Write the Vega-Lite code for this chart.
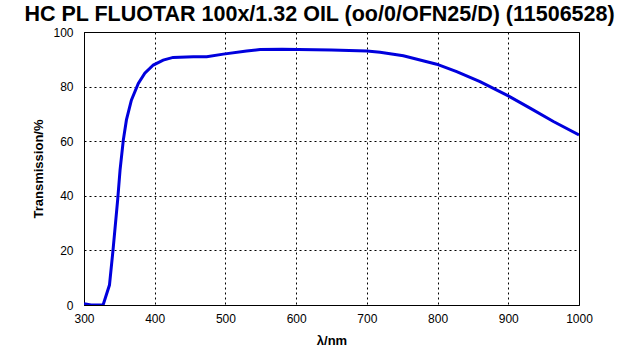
{
  "$schema": "https://vega.github.io/schema/vega-lite/v6.json",
  "width": 495,
  "height": 273,
  "autosize": {"type": "none"},
  "padding": {"left": 84, "top": 32, "right": 61, "bottom": 45},
  "background": "white",
  "title": {"text": "HC PL FLUOTAR 100x/1.32 OIL (oo/0/OFN25/D) (11506528)", "font": "Liberation Sans", "fontSize": 21.5, "fontWeight": "bold", "color": "black", "anchor": "middle", "dx": -12, "offset": 1},
  "config": {
    "view": {"stroke": "black", "strokeWidth": 1}
  },
  "data": {"values": [
    {"wavelength": 300, "T": 0.5},
    {"wavelength": 310, "T": 0},
    {"wavelength": 327, "T": 0},
    {"wavelength": 336, "T": 7.3},
    {"wavelength": 341, "T": 20},
    {"wavelength": 347.6, "T": 38.5},
    {"wavelength": 351, "T": 49.5},
    {"wavelength": 355.6, "T": 60.4},
    {"wavelength": 360, "T": 67.8},
    {"wavelength": 367, "T": 75},
    {"wavelength": 376.8, "T": 81.2},
    {"wavelength": 386, "T": 84.9},
    {"wavelength": 398, "T": 87.9},
    {"wavelength": 412, "T": 89.7},
    {"wavelength": 426, "T": 90.7},
    {"wavelength": 454.6, "T": 90.9},
    {"wavelength": 473.5, "T": 90.9},
    {"wavelength": 497, "T": 91.9},
    {"wavelength": 530, "T": 93.0},
    {"wavelength": 549, "T": 93.6},
    {"wavelength": 580, "T": 93.7},
    {"wavelength": 650, "T": 93.4},
    {"wavelength": 700, "T": 93.0},
    {"wavelength": 718.7, "T": 92.6},
    {"wavelength": 751.6, "T": 91.3},
    {"wavelength": 798.7, "T": 88.2},
    {"wavelength": 827, "T": 85.5},
    {"wavelength": 860, "T": 81.8},
    {"wavelength": 900, "T": 76.6},
    {"wavelength": 930.8, "T": 72.1},
    {"wavelength": 963.8, "T": 67.2},
    {"wavelength": 1000, "T": 62.3}
  ]},
  "mark": {"type": "line", "color": "#0000dd", "strokeWidth": 3, "clip": true},
  "encoding": {
    "x": {"field": "wavelength", "type": "quantitative", "scale": {"domain": [300, 1000], "nice": false, "zero": false},
          "axis": {"title": "λ/nm", "values": [300, 400, 500, 600, 700, 800, 900, 1000], "format": "d", "grid": true, "gridColor": "#000000", "gridOpacity": 1, "gridWidth": 1, "gridDash": [2, 3], "ticks": false, "domainColor": "#000000", "labelFont": "Liberation Sans", "labelFontSize": 12, "labelColor": "#000000", "labelFlush": false, "labelPadding": 8, "titleFont": "Liberation Sans", "titleFontSize": 13, "titleFontWeight": "bold", "titleColor": "#000000", "titlePadding": 10}},
    "y": {"field": "T", "type": "quantitative", "scale": {"domain": [0, 100], "nice": false},
          "axis": {"title": "Transmission/%", "values": [0, 20, 40, 60, 80, 100], "grid": true, "gridColor": "#000000", "gridOpacity": 1, "gridWidth": 1, "gridDash": [2, 3], "ticks": false, "domainColor": "#000000", "labelFont": "Liberation Sans", "labelFontSize": 12, "labelColor": "#000000", "labelFlush": false, "labelPadding": 11, "titleFont": "Liberation Sans", "titleFontSize": 13, "titleFontWeight": "bold", "titleColor": "#000000", "titlePadding": 7}}
  }
}
